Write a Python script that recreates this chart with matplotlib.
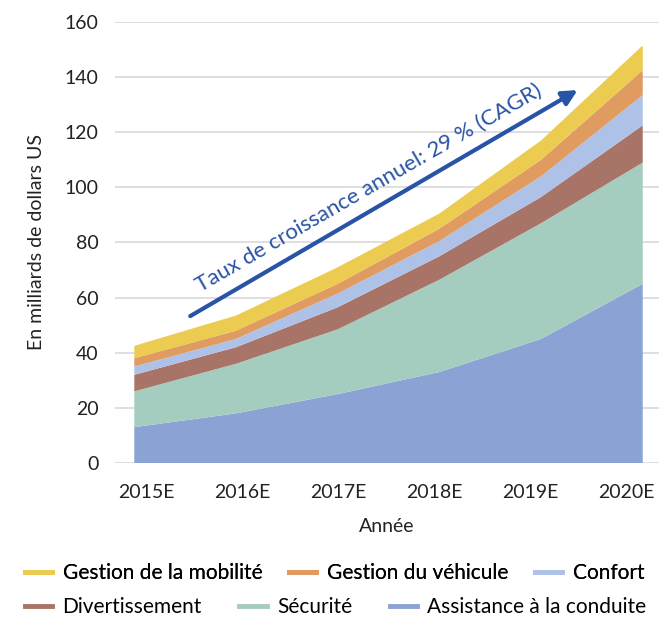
import numpy as np
import matplotlib.pyplot as plt
from matplotlib.lines import Line2D

plt.rcParams['font.family'] = ['Lato', 'DejaVu Sans']

annees = ['2015E', '2016E', '2017E', '2018E', '2019E', '2020E']
assistance = [13, 18, 25, 33, 45, 65]
securite = [13, 18, 23.5, 33.5, 42, 44]
divertissement = [6, 6, 8, 8.5, 9.5, 13.5]
confort = [3, 3, 5, 5.5, 7.5, 11]
vehicule = [3, 3, 3.5, 4.5, 6, 9]
mobilite = [4.5, 5.5, 6, 5.5, 7, 9]

noms = ['Assistance à la conduite', 'Sécurité', 'Divertissement', 'Confort',
        'Gestion du véhicule', 'Gestion de la mobilité']
couleurs = ['#8aa2d4', '#a5cdbf', '#a87468', '#aec1e6', '#e09b60', '#ebcb50']

x = np.arange(len(annees))
fig = plt.figure(figsize=(6.59, 6.19), dpi=100)
ax = fig.add_axes([0.1745, 0.252, 0.8255, 0.7125])
ax.stackplot(x, assistance, securite, divertissement, confort, vehicule, mobilite,
             colors=couleurs, lw=0, zorder=2)

ax.set_xlim(-0.19, 5.16)
ax.set_ylim(0, 160)
ax.set_yticks(np.arange(0, 161, 20))
ax.yaxis.grid(True, color='#d9d9d9', lw=1.2, zorder=0)
ax.set_axisbelow(True)
for s in ax.spines.values():
    s.set_visible(False)
ax.tick_params(axis='both', length=0, labelsize=14, colors='#222222', pad=12)
ax.set_xticks(np.linspace(0.12, 4.84, 6))
ax.set_xticklabels(annees)
ax.tick_params(axis='x', pad=15)
ax.set_xlabel('Année', fontsize=14, color='#222222', labelpad=12)
ax.set_ylabel('En milliards de dollars US', fontsize=14, color='#222222', labelpad=14)

# fleche CAGR
ax.annotate('', xy=(4.36, 135.3), xytext=(0.55, 53.3),
            arrowprops=dict(arrowstyle='-|>,head_length=0.9,head_width=0.45',
                            color='#2853a6', lw=3, shrinkA=0, shrinkB=0), zorder=5)
ax.text(0.65, 62, 'Taux de croissance annuel: 29 % (CAGR)', rotation=30,
        rotation_mode='anchor', ha='left', va='baseline', fontsize=16,
        color='#2853a6', zorder=5)

h = {n: Line2D([], [], color=c, lw=3.5) for n, c in zip(noms, couleurs)}
rang1 = ['Gestion de la mobilité', 'Gestion du véhicule', 'Confort']
rang2 = ['Divertissement', 'Sécurité', 'Assistance à la conduite']
leg1 = fig.legend([h[n] for n in rang1], rang1, ncol=3, loc='center left',
                  bbox_to_anchor=(0.038, 0.074), frameon=False, fontsize=15,
                  handlelength=1.3, handletextpad=0.5, columnspacing=1.3,
                  borderaxespad=0, borderpad=0)
leg2 = fig.legend([h[n] for n in rang2], rang2, ncol=3, loc='center left',
                  bbox_to_anchor=(0.038, 0.019), frameon=False, fontsize=15,
                  handlelength=1.3, handletextpad=0.5, columnspacing=1.8,
                  borderaxespad=0, borderpad=0)
fig.add_artist(leg1)

fig.savefig('out.png', dpi=100)
